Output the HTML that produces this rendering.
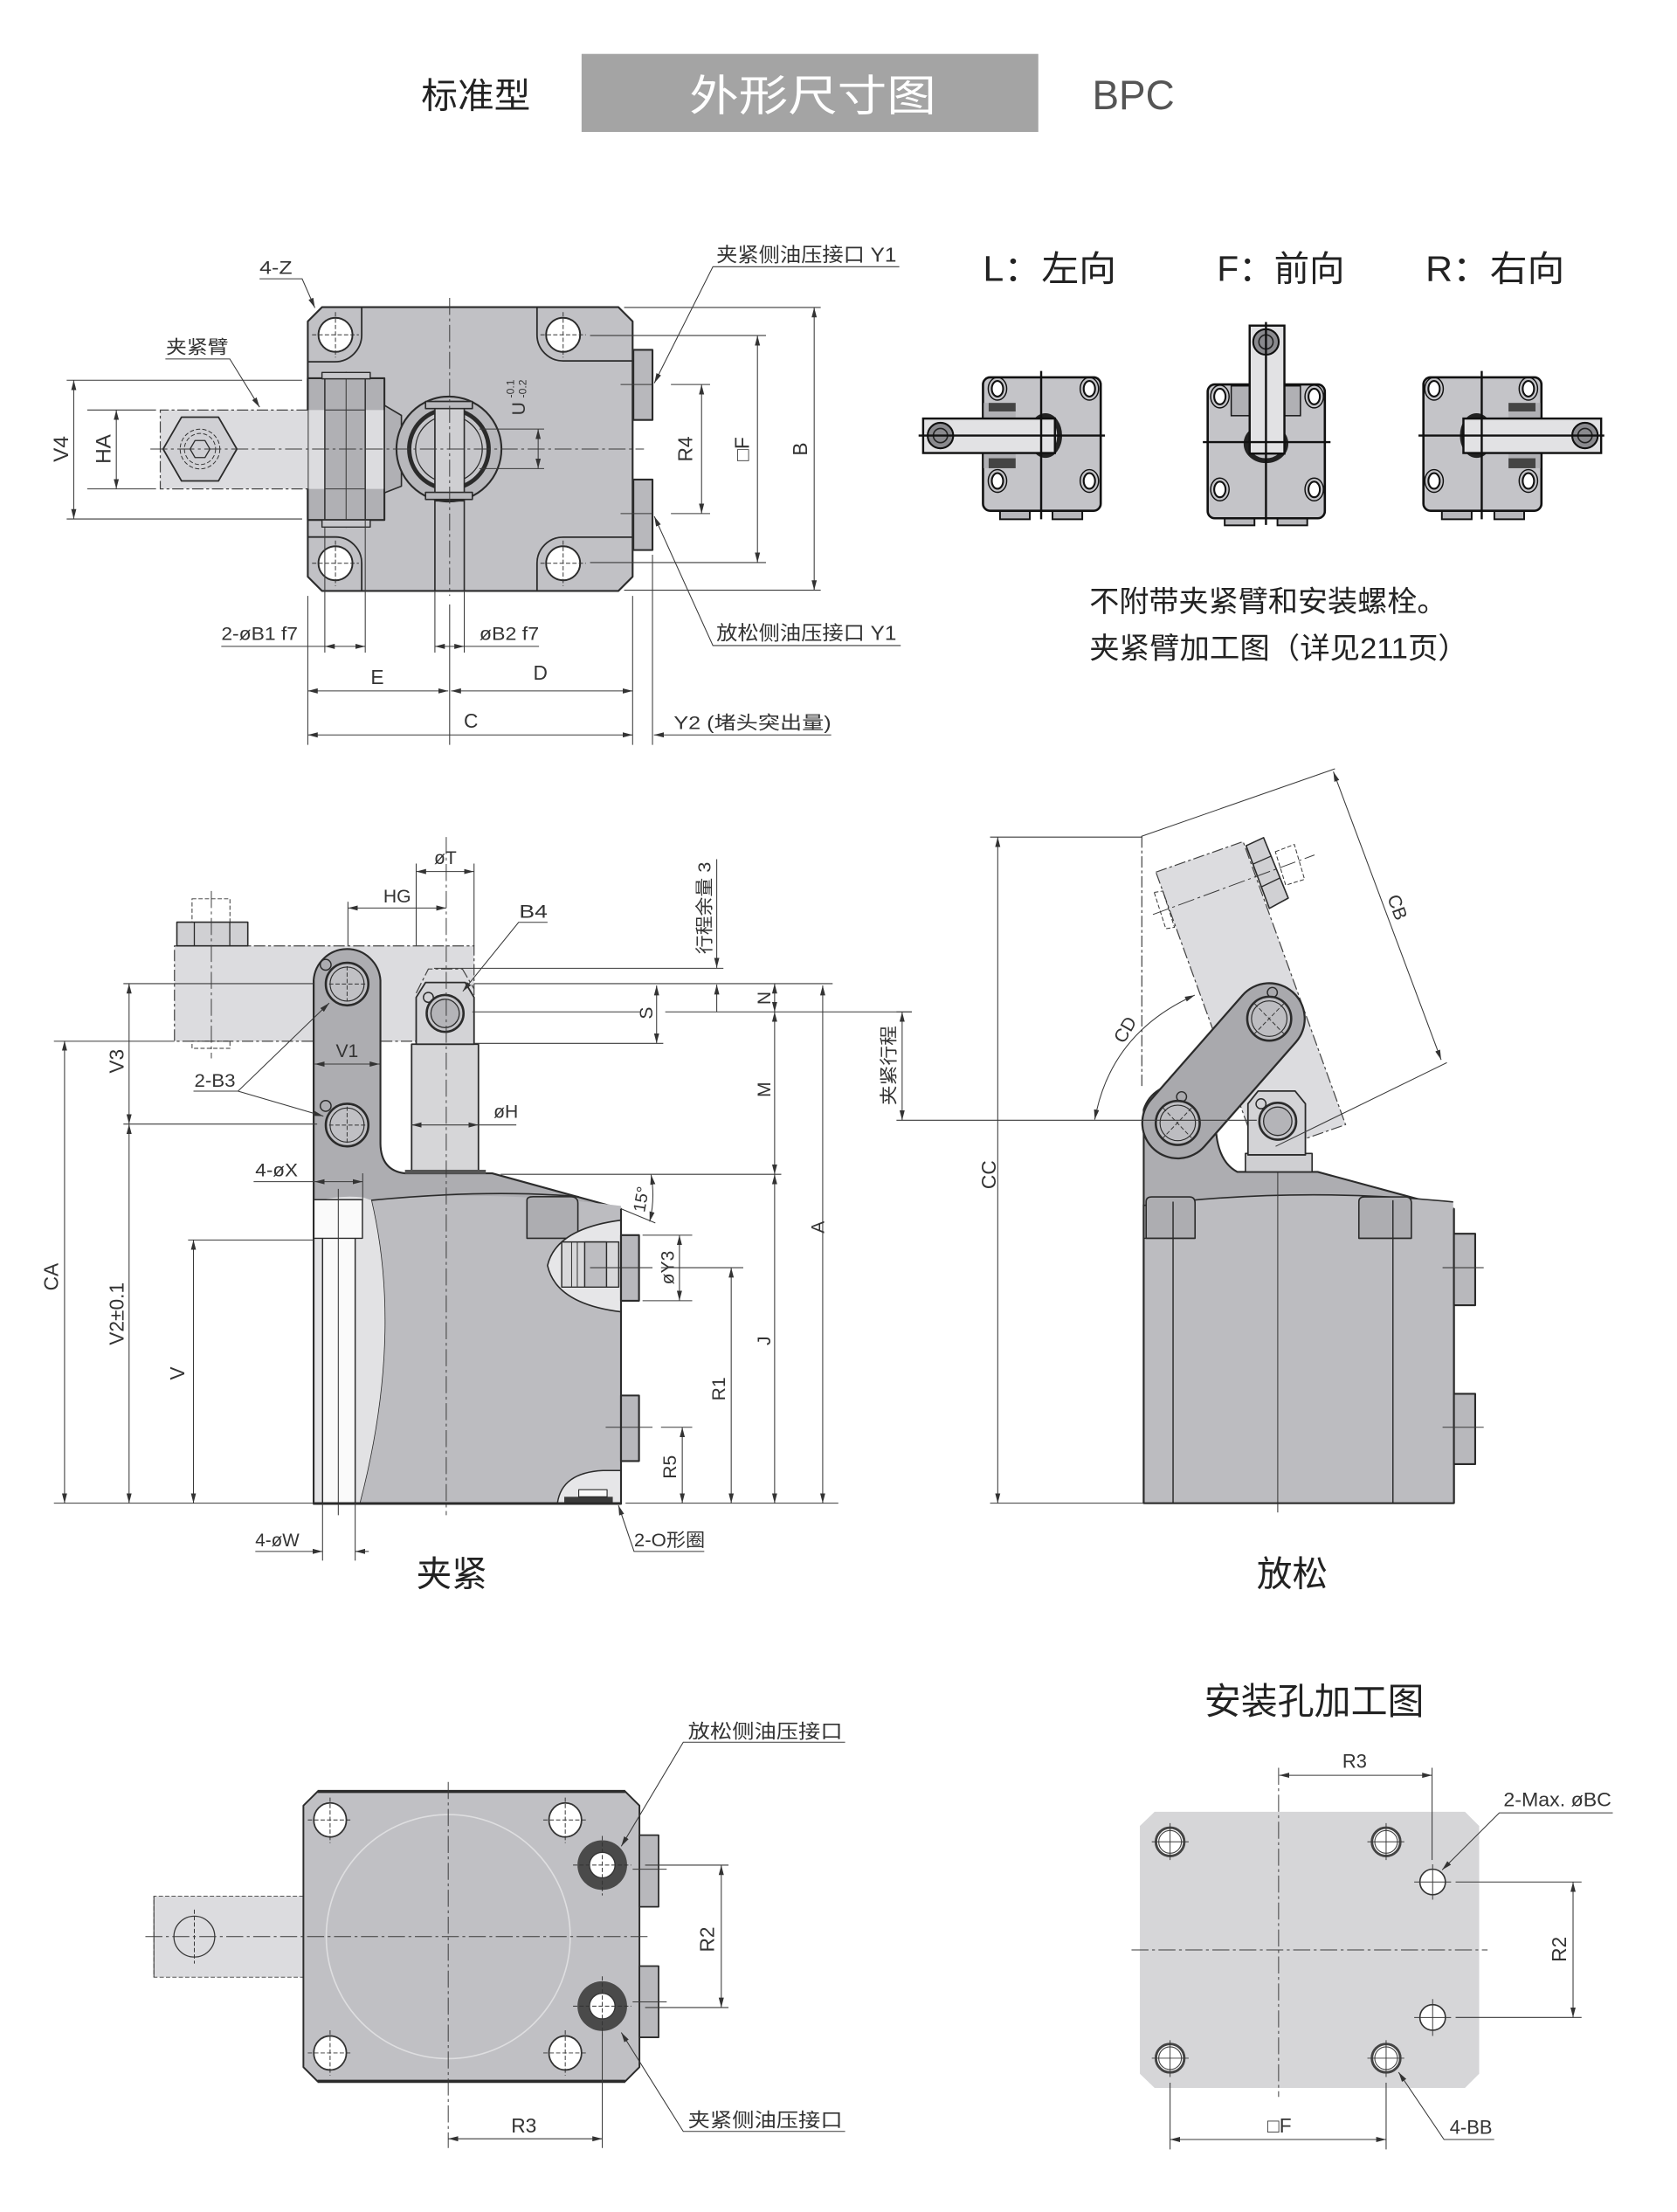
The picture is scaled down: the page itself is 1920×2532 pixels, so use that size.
<!DOCTYPE html>
<html><head><meta charset="utf-8">
<style>
html,body{margin:0;padding:0;background:#fff;}
svg{display:block;}
.t{font-family:"Liberation Sans","Noto Sans CJK SC",sans-serif;fill:#333;}
.o{fill:none;stroke:#2b2b2b;stroke-width:1.3;stroke-linejoin:round;}
.d{fill:none;stroke:#3a3a3a;stroke-width:0.65;}
.c{fill:none;stroke:#3a3a3a;stroke-width:0.6;stroke-dasharray:12 2.5 2 2.5;}
.h{fill:none;stroke:#444;stroke-width:0.75;stroke-dasharray:8 2 2 2;}
.x{fill:none;stroke:#333;stroke-width:0.6;stroke-dasharray:3 1.5;}
.k{fill:none;stroke:#111;stroke-width:1.5;}
.da{marker-start:url(#a);marker-end:url(#a);}
.ea{marker-end:url(#a);}
</style></head>
<body>
<svg xmlns="http://www.w3.org/2000/svg" width="1920" height="2532" viewBox="0 0 1182.27 1559.11" preserveAspectRatio="none">
<defs>
<marker id="a" viewBox="0 0 10 6" refX="10" refY="3" markerWidth="7" markerHeight="4.2" orient="auto-start-reverse" markerUnits="userSpaceOnUse"><path d="M0,0.4 L10,3 L0,5.6 Z" fill="#333"/></marker>
</defs>
<rect width="1182.27" height="1559.11" fill="#fff"/>

<!-- HEADER -->
<text class="t" x="297" y="76" font-size="25" style="fill:#222" textLength="77" lengthAdjust="spacingAndGlyphs">标准型</text>
<rect x="410" y="38" width="322" height="55" fill="#a4a4a4"/>
<text class="t" x="486" y="78" font-size="30" style="fill:#fff" textLength="174" lengthAdjust="spacingAndGlyphs">外形尺寸图</text>
<text class="t" x="770" y="77" font-size="29" style="fill:#555" textLength="58" lengthAdjust="spacingAndGlyphs">BPC</text>

<!-- ================= TOP PLAN VIEW ================= -->
<path d="M227,216.5 L436,216.5 L446,226.5 L446,406.5 L436,416.5 L227,416.5 L217,406.5 L217,226.5 Z" class="o" style="fill:#c1c1c5"/>
<path d="M255,216.5 V236 A19,19 0 0 1 236,255 H217" class="o" style="stroke-width:1.1"/>
<path d="M378.6,216.5 V236 A18.4,18.4 0 0 0 397,254.4 H446" class="o" style="stroke-width:1.1"/>
<path d="M255,416.5 V397 A18.5,18.5 0 0 0 236.5,378.5 H217" class="o" style="stroke-width:1.1"/>
<path d="M378.6,416.5 V397 A18.4,18.4 0 0 1 397,378.6 H446" class="o" style="stroke-width:1.1"/>
<g fill="#fff" stroke="#2b2b2b" stroke-width="1.2">
<circle cx="236.5" cy="236" r="12"/><circle cx="397" cy="236" r="12"/>
<circle cx="236.5" cy="397" r="12"/><circle cx="397" cy="397" r="12"/>
</g>
<g class="x">
<path d="M220,236 H253 M236.5,220 V252 M381,236 H413 M397,220 V252 M220,397 H253 M236.5,381 V413 M381,397 H413 M397,381 V413"/>
</g>
<rect x="446.5" y="246.6" width="13.5" height="49.4" class="o" style="fill:#b8b8bc"/>
<rect x="446.5" y="338" width="13.5" height="49.7" class="o" style="fill:#b8b8bc"/>
<path d="M437.5,271 H459.5 M437.5,362 H459.5" class="d"/>
<rect x="217" y="266.6" width="54" height="99.9" class="o" style="fill:#b0b0b4"/>
<rect x="217.6" y="289" width="11.4" height="55.6" fill="#dcdcdf"/>
<rect x="257.5" y="289" width="13" height="55.6" fill="#dcdcdf"/>
<path d="M229,266.6 V366.5 M257.5,266.6 V366.5" class="o" style="stroke-width:0.9"/>
<path d="M244,262 V372" class="d"/>
<rect x="227" y="262.5" width="34" height="4.5" class="o" style="fill:#c8c8cc;stroke-width:0.9"/>
<rect x="227" y="366.5" width="34" height="5" class="o" style="fill:#c8c8cc;stroke-width:0.9"/>
<path d="M271,285.7 L283,292.8 L283,342.7 L271,347.4 Z" class="o" style="fill:#b0b0b4;stroke-width:1"/>
<rect x="113" y="289" width="104" height="55.6" fill="#dcdcdf"/>
<path d="M217,289 H113 V344.6 H217" class="h"/>
<path d="M229,289 H257.5 M229,344.6 H257.5" class="d"/>
<path d="M115,316.5 L128,294 L154,294 L167,316.5 L154,339 L128,339 Z" class="o" style="fill:#d0d0d4;stroke-width:1.1"/>
<circle cx="141" cy="316.5" r="14" class="x"/>
<circle cx="141" cy="316.5" r="11" class="x"/>
<path d="M134,316.5 L137.5,310.5 L144.5,310.5 L148,316.5 L144.5,322.5 L137.5,322.5 Z" class="o" style="stroke-width:0.8"/>
<circle cx="316.5" cy="316.5" r="37" class="o" style="fill:#b8b8bc"/>
<circle cx="316.5" cy="316.5" r="28" fill="#c6c6ca" stroke="#2b2b2b" stroke-width="3"/>
<circle cx="316.5" cy="316.5" r="23.5" fill="#c6c6ca" stroke="#2b2b2b" stroke-width="0.8"/>
<rect x="306.6" y="283" width="20.7" height="70" class="o" style="fill:#cfcfd2;stroke-width:1"/>
<rect x="300" y="283" width="33" height="5" class="o" style="fill:#b8b8bc;stroke-width:1"/>
<rect x="300" y="347" width="33" height="5" class="o" style="fill:#b8b8bc;stroke-width:1"/>
<path d="M306.6,353 V416.5 M327.3,353 V416.5" class="o" style="stroke-width:1"/>
<path d="M317,210 V420" class="c"/>
<path d="M317,426 V525" class="d"/>
<path d="M106,316.5 H454" class="c"/>
<path d="M306.6,416.5 V460 M327.3,416.5 V460 M229,372 V460 M257.5,366 V460" class="d"/>
<path d="M217,420 V525 M446,420 V525 M460,391 V525" class="d"/>
<text class="t" x="183" y="193" font-size="13" textLength="23" lengthAdjust="spacingAndGlyphs">4-Z</text>
<path d="M183,196.5 H213 L222,217" class="d ea"/>
<text class="t" x="117" y="249" font-size="13" textLength="44" lengthAdjust="spacingAndGlyphs">夹紧臂</text>
<path d="M116.6,253 H162 L183,287" class="d ea"/>
<text class="t" x="505" y="184.5" font-size="14" textLength="127" lengthAdjust="spacingAndGlyphs">夹紧侧油压接口 Y1</text>
<path d="M634,188 H502.6 L461.3,270" class="d ea"/>
<text class="t" x="505" y="451" font-size="14" textLength="127" lengthAdjust="spacingAndGlyphs">放松侧油压接口 Y1</text>
<path d="M635,455 H502.6 L461.3,364" class="d ea"/>
<path d="M47,268 H213 M47,365.8 H213" class="d"/>
<path d="M52,268 V365.8" class="d da"/>
<text class="t" transform="translate(48,316.5) rotate(-90)" font-size="15" text-anchor="middle">V4</text>
<path d="M61.5,289 H110 M61.5,344.6 H110" class="d"/>
<path d="M82,289 V344.6" class="d da"/>
<text class="t" transform="translate(78,316.5) rotate(-90)" font-size="15" text-anchor="middle">HA</text>
<path d="M338,302.4 H383.6 M338,330.3 H383.6" class="d"/>
<path d="M379.4,302.4 V330.3" class="d da"/>
<text class="t" transform="translate(370,288) rotate(-90)" font-size="13" text-anchor="middle">U</text>
<text class="t" transform="translate(362.5,274) rotate(-90)" font-size="7.5" text-anchor="middle">-0.1</text>
<text class="t" transform="translate(371,274) rotate(-90)" font-size="7.5" text-anchor="middle">-0.2</text>
<path d="M473,271 H500.6 M473,362 H500.6" class="d"/>
<path d="M494.6,271 V362" class="d da"/>
<text class="t" transform="translate(488,316.5) rotate(-90)" font-size="14" text-anchor="middle">R4</text>
<path d="M416,236.5 H540 M416,396.5 H540" class="d"/>
<path d="M534,236.5 V396.5" class="d da"/>
<text class="t" transform="translate(528,316.5) rotate(-90)" font-size="14" text-anchor="middle">□F</text>
<path d="M440,216.7 H578.6 M440,416 H578.6" class="d"/>
<path d="M574,216.7 V416" class="d da"/>
<text class="t" transform="translate(569,316.5) rotate(-90)" font-size="14" text-anchor="middle">B</text>
<text class="t" x="156" y="451" font-size="13" textLength="54" lengthAdjust="spacingAndGlyphs">2-øB1 f7</text>
<path d="M156,455.6 H229" class="d"/>
<path d="M229,455.6 H257.5" class="d da"/>
<text class="t" x="338" y="451" font-size="13" textLength="42" lengthAdjust="spacingAndGlyphs">øB2 f7</text>
<path d="M327.3,455.6 H380" class="d"/>
<path d="M306.6,455.6 H327.3" class="d da"/>
<text class="t" x="266" y="482" font-size="14" text-anchor="middle">E</text>
<path d="M217,487 H316" class="d da"/>
<text class="t" x="381" y="479" font-size="14" text-anchor="middle">D</text>
<path d="M318,487 H446" class="d da"/>
<text class="t" x="332" y="513" font-size="14" text-anchor="middle">C</text>
<path d="M217,518 H446" class="d da"/>
<text class="t" x="475" y="514" font-size="13" textLength="111" lengthAdjust="spacingAndGlyphs">Y2 (堵头突出量)</text>
<path d="M586,518 H461" class="d ea"/>

<!-- ================= SMALL VIEWS ================= -->
<text class="t" x="693" y="198" font-size="25" style="fill:#222" textLength="94" lengthAdjust="spacingAndGlyphs">L：左向</text>
<text class="t" x="858" y="198" font-size="25" style="fill:#222" textLength="90" lengthAdjust="spacingAndGlyphs">F：前向</text>
<text class="t" x="1005" y="198" font-size="25" style="fill:#222" textLength="98" lengthAdjust="spacingAndGlyphs">R：右向</text>

<g>
<rect x="705" y="359" width="21" height="7" fill="#b8b8bc" stroke="#111" stroke-width="1.2"/>
<rect x="742" y="359" width="21" height="7" fill="#b8b8bc" stroke="#111" stroke-width="1.2"/>
<rect x="693" y="266" width="83" height="94" rx="5" fill="#c4c4c8" stroke="#111" stroke-width="1.6"/>
<rect x="693.5" y="284" width="22.5" height="46" fill="#b0b0b4"/>
<rect x="697" y="284" width="19" height="6" fill="#444"/>
<rect x="697" y="323" width="19" height="7" fill="#444"/>
<g fill="#fff" stroke="#111" stroke-width="1.3">
<ellipse cx="703.2" cy="274" rx="4" ry="5.5"/><ellipse cx="768" cy="274" rx="4" ry="5.5"/>
<ellipse cx="703.2" cy="339" rx="4" ry="5.5"/><ellipse cx="768" cy="339" rx="4" ry="5.5"/>
</g>
<g fill="none" stroke="#111" stroke-width="0.9">
<ellipse cx="703.2" cy="274" rx="6.5" ry="8"/><ellipse cx="768" cy="274" rx="6.5" ry="8"/>
<ellipse cx="703.2" cy="339" rx="6.5" ry="8"/><ellipse cx="768" cy="339" rx="6.5" ry="8"/>
</g>
<ellipse cx="737" cy="307" rx="10" ry="14" fill="none" stroke="#222" stroke-width="3.5"/>
<rect x="650.8" y="295" width="92.9" height="24.3" fill="#e2e2e4" stroke="#111" stroke-width="1.5"/>
<circle cx="663" cy="307" r="9" fill="#8a8a8e" stroke="#111" stroke-width="1.3"/>
<circle cx="663" cy="307" r="5" fill="none" stroke="#222" stroke-width="1"/>
<path d="M734,261.5 V366 M647.6,307 H779" class="k"/>
</g>
<g>
<rect x="863.4" y="364" width="21" height="6.3" fill="#b8b8bc" stroke="#111" stroke-width="1.2"/>
<rect x="900.6" y="364" width="21" height="6.3" fill="#b8b8bc" stroke="#111" stroke-width="1.2"/>
<rect x="851.4" y="271" width="82.6" height="94.3" rx="5" fill="#c4c4c8" stroke="#111" stroke-width="1.6"/>
<rect x="868" y="272" width="48.8" height="21" fill="#b0b0b4" stroke="#111" stroke-width="0.9"/>
<g fill="#fff" stroke="#111" stroke-width="1.3">
<ellipse cx="860" cy="279.5" rx="4" ry="5.5"/><ellipse cx="926.5" cy="279.5" rx="4" ry="5.5"/>
<ellipse cx="860" cy="345" rx="4" ry="5.5"/><ellipse cx="926.5" cy="345" rx="4" ry="5.5"/>
</g>
<g fill="none" stroke="#111" stroke-width="0.9">
<ellipse cx="860" cy="279.5" rx="6.5" ry="8"/><ellipse cx="926.5" cy="279.5" rx="6.5" ry="8"/>
<ellipse cx="860" cy="345" rx="6.5" ry="8"/><ellipse cx="926.5" cy="345" rx="6.5" ry="8"/>
</g>
<ellipse cx="892.5" cy="312.7" rx="14" ry="12" fill="none" stroke="#222" stroke-width="3.5"/>
<rect x="881" y="229.5" width="24.5" height="90.2" fill="#e2e2e4" stroke="#111" stroke-width="1.5"/>
<circle cx="892.5" cy="241" r="9" fill="#8a8a8e" stroke="#111" stroke-width="1.3"/>
<circle cx="892.5" cy="241" r="5" fill="none" stroke="#222" stroke-width="1"/>
<path d="M892.5,227 V370 M848,311.6 H938" class="k"/>
</g>
<g>
<rect x="1016.5" y="359" width="21" height="7" fill="#b8b8bc" stroke="#111" stroke-width="1.2"/>
<rect x="1053.5" y="359" width="21" height="7" fill="#b8b8bc" stroke="#111" stroke-width="1.2"/>
<rect x="1003.5" y="266" width="83.2" height="94" rx="5" fill="#c4c4c8" stroke="#111" stroke-width="1.6"/>
<rect x="1063.5" y="284" width="22.5" height="46" fill="#b0b0b4"/>
<rect x="1063.5" y="284" width="19" height="6" fill="#444"/>
<rect x="1063.5" y="323" width="19" height="7" fill="#444"/>
<g fill="#fff" stroke="#111" stroke-width="1.3">
<ellipse cx="1011" cy="274" rx="4" ry="5.5"/><ellipse cx="1077.5" cy="274" rx="4" ry="5.5"/>
<ellipse cx="1011" cy="339" rx="4" ry="5.5"/><ellipse cx="1077.5" cy="339" rx="4" ry="5.5"/>
</g>
<g fill="none" stroke="#111" stroke-width="0.9">
<ellipse cx="1011" cy="274" rx="6.5" ry="8"/><ellipse cx="1077.5" cy="274" rx="6.5" ry="8"/>
<ellipse cx="1011" cy="339" rx="6.5" ry="8"/><ellipse cx="1077.5" cy="339" rx="6.5" ry="8"/>
</g>
<ellipse cx="1041" cy="307" rx="10" ry="14" fill="none" stroke="#222" stroke-width="3.5"/>
<rect x="1031.7" y="295" width="97.1" height="24.3" fill="#e2e2e4" stroke="#111" stroke-width="1.5"/>
<circle cx="1117.4" cy="307" r="9" fill="#8a8a8e" stroke="#111" stroke-width="1.3"/>
<circle cx="1117.4" cy="307" r="5" fill="none" stroke="#222" stroke-width="1"/>
<path d="M1044.6,261.5 V366 M1000,307 H1131" class="k"/>
</g>
<text class="t" x="768" y="431" font-size="20.5" style="fill:#222" textLength="252" lengthAdjust="spacingAndGlyphs">不附带夹紧臂和安装螺栓。</text>
<text class="t" x="768" y="464" font-size="20.5" style="fill:#222" textLength="267" lengthAdjust="spacingAndGlyphs">夹紧臂加工图（详见211页）</text>

<!-- ================= CLAMP SIDE VIEW ================= -->
<rect x="123" y="666.7" width="211.2" height="67.2" fill="#dcdcdf"/>
<path d="M123,666.7 H334.2 V733.9 H123 Z" class="h"/>
<rect x="135.4" y="633.5" width="26.7" height="16.5" fill="#dcdcdf" class="x"/>
<rect x="124.7" y="650" width="50" height="16.7" class="o" style="fill:#d0d0d3;stroke-width:1"/>
<path d="M137,650 V666.7 M162,650 V666.7" class="o" style="stroke-width:0.8"/>
<rect x="135.4" y="733.9" width="26.7" height="5" fill="#dcdcdf" class="x"/>
<path d="M149,628 V746" class="c"/>
<path d="M221.1,1060 V691 A23.6,23.6 0 0 1 268.2,691 V806 Q268.5,825 285.5,827 H347 L437.8,852 V1060 Z" class="o" style="fill:#adadb1"/>
<path d="M261.7,846 Q345,838 437.8,850 V1059.5 H253.5 Q284.2,942 261.7,846 Z" fill="#bcbcc0"/>
<path d="M261.7,846 Q345,838 408,843.5" class="o" style="stroke-width:1"/>
<path d="M261.7,846 Q284.2,942 253.5,1059.5" class="o" style="stroke-width:1"/>
<path d="M221.1,847 Q240,842 256,844 L261.7,846 Q284.2,942 253.5,1059.5 H221.1 Z" fill="#e2e2e4"/>
<rect x="221.1" y="845.6" width="34.4" height="27.2" fill="#fafafa"/>
<rect x="227.4" y="872.8" width="23" height="186.7" fill="#fafafa"/>
<path d="M221.1,845.6 H255.5 V872.8 H221.1 M227.4,872.8 V1059.5 M250.4,872.8 V1059.5" class="o" style="stroke-width:0.9"/>
<path d="M238.5,838 V1068" class="d"/>
<path d="M221.1,691 V1059.5" class="o"/>
<path d="M371.5,872.8 V846 Q371.5,843.5 376,843.5 H402 Q407.4,843.5 407.4,848 V872.8 Z" class="o" style="fill:#adadb1;stroke-width:1"/>
<!-- port cutaway -->
<path d="M437.8,860 Q392,866 386,892 Q392,919 437.8,924.6 Z" class="o" style="fill:#e6e6e8;stroke-width:1"/>
<rect x="396" y="875.4" width="40.2" height="31.8" class="o" style="fill:#d8d8da;stroke-width:0.9"/>
<rect x="412.2" y="875.4" width="15.4" height="31.8" class="o" style="fill:#bdbdc1;stroke-width:0.9"/>
<path d="M403,875.4 V907.2 M407,875.4 V907.2" class="d"/>
<rect x="437.8" y="870.6" width="12.7" height="46.2" class="o" style="fill:#b8b8bc"/>
<rect x="437.8" y="983.6" width="12.7" height="46.2" class="o" style="fill:#b8b8bc"/>
<path d="M416,893.5 H460 M427,1006 H460" class="d"/>
<path d="M393,1059.5 Q396,1038 425,1036.5 H437.8 V1059.5 Z" class="o" style="fill:#e6e6e8;stroke-width:0.9"/>
<rect x="397.8" y="1055" width="34.2" height="4.5" fill="#3a3a3a"/>
<rect x="408" y="1050" width="20" height="5" class="o" style="fill:#fafafa;stroke-width:0.7"/>
<path d="M221.1,1059.5 H437.8" class="o" style="stroke-width:1.4"/>
<path d="M437.8,852 V1059.5" class="o"/>
<rect x="290.2" y="736" width="47.1" height="91" class="o" style="fill:#d6d6d8;stroke-width:1.1"/>
<rect x="285.5" y="824.5" width="57" height="3" fill="#555"/>
<path d="M293.4,700 L302,683 H326 L334.2,697" class="h"/>
<path d="M293.4,736 V703 L300,692.5 H328 L334.2,703 V736 Z" class="o" style="fill:#d3d3d6;stroke-width:1.1"/>
<circle cx="313.8" cy="714.3" r="13" fill="#c4c4c8" stroke="#2b2b2b" stroke-width="1.6"/>
<circle cx="313.8" cy="714.3" r="10" fill="#b4b4b8" stroke="#2b2b2b" stroke-width="0.8"/>
<circle cx="302" cy="703" r="3.5" fill="none" stroke="#2b2b2b" stroke-width="0.9"/>
<g>
<circle cx="244.7" cy="693.6" r="15" fill="#c0c0c4" stroke="#2b2b2b" stroke-width="1.6"/>
<circle cx="244.7" cy="693.6" r="12" fill="#c0c0c4" stroke="#2b2b2b" stroke-width="0.7"/>
<circle cx="229.6" cy="680" r="3.8" fill="none" stroke="#2b2b2b" stroke-width="0.9"/>
<circle cx="244.7" cy="793" r="15" fill="#c0c0c4" stroke="#2b2b2b" stroke-width="1.6"/>
<circle cx="244.7" cy="793" r="12" fill="#c0c0c4" stroke="#2b2b2b" stroke-width="0.7"/>
<circle cx="229.6" cy="779.5" r="3.8" fill="none" stroke="#2b2b2b" stroke-width="0.9"/>
<path d="M232,693.6 H258 M244.7,681 V706 M232,793 H258 M244.7,780 V806" class="x"/>
</g>
<path d="M314.6,590 V1068" class="c"/>
<path d="M293.4,608.7 V666.7 M334.2,608.7 V666.7" class="d"/>
<path d="M293.4,614.3 H334.2" class="d da"/>
<text class="t" x="314" y="609" font-size="13" text-anchor="middle">øT</text>
<path d="M245.3,635.6 V666.7" class="d"/>
<path d="M245.3,640 H314.6" class="d da"/>
<text class="t" x="280" y="636" font-size="13" text-anchor="middle">HG</text>
<text class="t" x="366" y="647" font-size="13" textLength="20" lengthAdjust="spacingAndGlyphs">B4</text>
<path d="M386,650.1 H365.6 L326.3,698.7" class="d ea"/>
<text class="t" transform="translate(501,640) rotate(-90)" font-size="12.5" text-anchor="middle" textLength="65" lengthAdjust="spacingAndGlyphs">行程余量 3</text>
<path d="M505.3,605.6 V682.2" class="d ea"/>
<path d="M505.3,713.2 V694" class="d ea"/>
<path d="M306,682.5 H510" class="d"/>
<path d="M87,693.3 H221 M334.2,693.3 H587" class="d"/>
<path d="M333,713.2 H451 M469,713.2 H642.8" class="d"/>
<path d="M334.2,735.4 H467.6" class="d"/>
<path d="M462.9,694.6 V735.4" class="d da"/>
<text class="t" transform="translate(460,714) rotate(-90)" font-size="13" text-anchor="middle">S</text>
<path d="M546.1,693.3 V713.2" class="d da"/>
<text class="t" transform="translate(543,703.5) rotate(-90)" font-size="13" text-anchor="middle">N</text>
<path d="M546.1,713.2 V827.7" class="d da"/>
<text class="t" transform="translate(543,768) rotate(-90)" font-size="13" text-anchor="middle">M</text>
<path d="M353,827.7 H550.8" class="d"/>
<path d="M580,694.6 V1059.5" class="d da"/>
<text class="t" transform="translate(581,865) rotate(-90)" font-size="13" text-anchor="middle">A</text>
<path d="M546.1,827.7 V1059.5" class="d da"/>
<text class="t" transform="translate(543,945) rotate(-90)" font-size="13" text-anchor="middle">J</text>
<path d="M515.5,893.5 V1059.5" class="d da"/>
<text class="t" transform="translate(511,979) rotate(-90)" font-size="13" text-anchor="middle">R1</text>
<path d="M479,870.6 V916.8" class="d da"/>
<text class="t" transform="translate(475,893.5) rotate(-90)" font-size="13" text-anchor="middle">øY3</text>
<path d="M481,1006 V1059.5" class="d da"/>
<text class="t" transform="translate(476.5,1034) rotate(-90)" font-size="13" text-anchor="middle">R5</text>
<path d="M453,870.6 H488 M453,916.8 H488 M466,893.5 H524 M466,1006 H488" class="d"/>
<path d="M38,1059.5 H221 M441,1059.5 H591" class="d"/>
<path d="M437.8,852 L462,862" class="d"/>
<path d="M459,828 Q462,845 458,861" class="d da"/>
<text class="t" transform="translate(456,846) rotate(-80)" font-size="12" text-anchor="middle">15°</text>
<path d="M290.2,792.9 H337.3" class="d da"/>
<path d="M337.3,792.9 H364" class="d"/>
<text class="t" x="348" y="788" font-size="13">øH</text>
<path d="M221.8,750 H267.6" class="d da"/>
<text class="t" x="244.7" y="745" font-size="13" text-anchor="middle">V1</text>
<text class="t" x="137" y="766" font-size="13" textLength="29" lengthAdjust="spacingAndGlyphs">2-B3</text>
<path d="M136.4,769.1 H167.8 L232.1,707" class="d ea"/>
<path d="M167.8,769.1 L228,786.7" class="d ea"/>
<text class="t" x="180" y="829" font-size="13" textLength="30" lengthAdjust="spacingAndGlyphs">4-øX</text>
<path d="M178.8,832.9 H221.8" class="d"/>
<path d="M221.8,832.9 H255.7" class="d da"/>
<path d="M255.7,827 V846" class="d"/>
<path d="M45.5,733.6 V1059.5" class="d da"/>
<path d="M38,733.9 H123" class="d"/>
<text class="t" transform="translate(41,900) rotate(-90)" font-size="14" text-anchor="middle">CA</text>
<path d="M91,693.3 V792.3" class="d da"/>
<text class="t" transform="translate(87,748) rotate(-90)" font-size="14" text-anchor="middle">V3</text>
<path d="M91,792.3 V1059.5" class="d da"/>
<text class="t" transform="translate(87,926) rotate(-90)" font-size="14" text-anchor="middle">V2±0.1</text>
<path d="M87,792.3 H223.6" class="d"/>
<path d="M136.4,874 V1059.5" class="d da"/>
<path d="M132.6,874 H221" class="d"/>
<text class="t" transform="translate(130,968) rotate(-90)" font-size="14" text-anchor="middle">V</text>
<text class="t" x="180" y="1090" font-size="13" textLength="31" lengthAdjust="spacingAndGlyphs">4-øW</text>
<path d="M227.4,1059.5 V1100 M250.4,1059.5 V1100" class="d"/>
<path d="M180,1093.5 H227.4" class="d ea"/>
<path d="M260,1093.5 H250.4" class="d ea"/>
<text class="t" x="447" y="1090" font-size="13" textLength="50" lengthAdjust="spacingAndGlyphs">2-O形圈</text>
<path d="M496.5,1093.5 H447 L436,1061" class="d ea"/>
<text class="t" x="318.5" y="1118" font-size="25" style="fill:#222" text-anchor="middle">夹紧</text>

<!-- ================= RELEASE VIEW ================= -->
<path d="M814.9,614.7 L876.4,593.2 L948.6,792.7 L887.1,814.2 Z" fill="#dcdcdf"/>
<path d="M814.9,614.7 L876.4,593.2 L948.6,792.7 L887.1,814.2 Z" class="h"/>
<path d="M878.5,596.1 L890.8,590.4 L908.2,633 L894.9,640.3 Z" class="o" style="fill:#d0d0d3;stroke-width:1"/>
<path d="M883.5,609 L896,603.5 M889.5,625 L902,619" class="o" style="stroke-width:0.8"/>
<path d="M899.1,600.3 L912.5,595.2 L919.7,619.8 L906.4,623.9 Z" fill="#dcdcdf" class="x"/>
<path d="M813.7,629 L819.8,628 L828,653.6 L821.9,654.6 Z" fill="#dcdcdf" class="x"/>
<path d="M812.8,644.6 L926.7,602.6" class="c"/>
<path d="M806.3,1059.5 V782 A26,26 0 0 1 857,790 Q857,818 872.3,826 H929 L1025,852 V1059.5 Z" class="o" style="fill:#adadb1"/>
<path d="M806.8,849.6 Q915,836 1024.5,847.2 V1059 H806.8 Z" fill="#bcbcc0"/>
<path d="M806.8,849.6 Q915,836 1024.5,847.2" class="o" style="stroke-width:1"/>
<path d="M808,872.8 V847 Q808,843.6 812,843.6 H838.5 Q842.5,843.6 842.5,848 V872.8 Z" class="o" style="fill:#adadb1;stroke-width:1"/>
<path d="M958,872.8 V847 Q958,843.6 962,843.6 H991 Q995,843.6 995,848 V872.8 Z" class="o" style="fill:#adadb1;stroke-width:1"/>
<path d="M806.3,872.8 H842.5 M958,872.8 H995" class="o" style="stroke-width:0.9"/>
<path d="M827,847 V1059.5 M982,846 V1059.5" class="o" style="stroke-width:0.9"/>
<path d="M900.8,780 V1066" class="d"/>
<path d="M806.3,1059.5 H1025 M806.3,849 V1059.5 M1025,852 V1059.5" class="o"/>
<rect x="1025" y="869.6" width="15" height="50.4" class="o" style="fill:#b8b8bc"/>
<rect x="1025" y="982.4" width="15" height="49.6" class="o" style="fill:#b8b8bc"/>
<path d="M1017,893.5 H1046 M1017,1006 H1046" class="d"/>
<rect x="878" y="813" width="47" height="13" class="o" style="fill:#cfcfd2;stroke-width:1"/>
<path d="M879.8,814 V778 L887,769 H913 L920.3,778 V814 Z" class="o" style="fill:#d3d3d6;stroke-width:1.1"/>
<circle cx="900.8" cy="790.3" r="13" fill="#c4c4c8" stroke="#2b2b2b" stroke-width="1.6"/>
<circle cx="900.8" cy="790.3" r="10" fill="#b4b4b8" stroke="#2b2b2b" stroke-width="0.8"/>
<circle cx="889" cy="778" r="3.5" fill="none" stroke="#2b2b2b" stroke-width="0.9"/>
<path d="M849.1,808 L913.6,734.5 A25,25 0 0 0 876,701.5 L811.5,775 A25,25 0 0 0 849.1,808 Z" class="o" style="fill:#a9a9ad;stroke-width:1.4"/>
<circle cx="830.3" cy="791.5" r="15.5" fill="#bdbdc1" stroke="#2b2b2b" stroke-width="1.6"/>
<circle cx="830.3" cy="791.5" r="12.5" fill="none" stroke="#2b2b2b" stroke-width="0.7"/>
<circle cx="894.8" cy="718" r="15.5" fill="#bdbdc1" stroke="#2b2b2b" stroke-width="1.6"/>
<circle cx="894.8" cy="718" r="12.5" fill="none" stroke="#2b2b2b" stroke-width="0.7"/>
<circle cx="833" cy="773" r="3.5" fill="none" stroke="#2b2b2b" stroke-width="0.9"/>
<circle cx="897" cy="699.5" r="3.5" fill="none" stroke="#2b2b2b" stroke-width="0.9"/>
<path d="M820,781 L840,802 M840,781 L820,802 M884.5,707.5 L905,728.5 M905,707.5 L884.5,728.5" class="x"/>
<path d="M805,589.5 V766" class="h"/>
<path d="M698,590 H805" class="d"/>
<path d="M703.4,590 V1059.5" class="d da"/>
<path d="M698,1059.5 H806" class="d"/>
<text class="t" transform="translate(702,828) rotate(-90)" font-size="14" text-anchor="middle">CC</text>
<path d="M642.8,713.2 H632 M632,789.6 H886" class="d"/>
<path d="M636,713.2 V789.6" class="d da"/>
<text class="t" transform="translate(631,751) rotate(-90)" font-size="12.5" text-anchor="middle" textLength="56" lengthAdjust="spacingAndGlyphs">夹紧行程</text>
<path d="M842.3,701.4 Q783,728 771.8,789.1" class="d da"/>
<text class="t" transform="translate(797,728) rotate(-60)" font-size="13" text-anchor="middle">CD</text>
<path d="M804.6,589.5 L941.1,541.9" class="d"/>
<path d="M940,543.9 L1016,747" class="d da"/>
<path d="M1020,749 L899.3,808" class="d"/>
<text class="t" transform="translate(981,641) rotate(70)" font-size="13" text-anchor="middle">CB</text>
<text class="t" x="911" y="1118" font-size="25" style="fill:#222" text-anchor="middle">放松</text>

<!-- ================= BOTTOM LEFT VIEW ================= -->
<rect x="108.5" y="1336.5" width="105.4" height="57.1" fill="#dcdcdf"/>
<path d="M213.9,1336.5 H108.5 V1393.6 H213.9" class="x" style="stroke:#555"/>
<path d="M108.5,1336.5 V1393.6" class="d"/>
<circle cx="137" cy="1365" r="14.4" class="d" style="stroke-width:0.8"/>
<path d="M137,1346 V1384" class="x"/>
<path d="M223.9,1262.7 H440.8 L450.8,1272.7 V1457 L440.8,1467 H223.9 L213.9,1457 V1272.7 Z" class="o" style="fill:#c0c0c4;stroke-width:1.2"/>
<path d="M223.9,1262.7 H440.8 M223.9,1467 H440.8" class="o" style="stroke-width:2.2"/>
<circle cx="316" cy="1365" r="86" fill="none" stroke="#dedee0" stroke-width="1"/>
<g fill="#fff" stroke="#333" stroke-width="1.1">
<ellipse cx="232.7" cy="1282.8" rx="11.5" ry="12"/><ellipse cx="398.5" cy="1282.8" rx="11.5" ry="12"/>
<ellipse cx="232.7" cy="1447" rx="11.5" ry="12"/><ellipse cx="398.5" cy="1447" rx="11.5" ry="12"/>
</g>
<path d="M217,1282.8 H248 M232.7,1267 V1299 M383,1282.8 H414 M398.5,1267 V1299 M217,1447 H248 M232.7,1431 V1463 M383,1447 H414 M398.5,1431 V1463" class="x"/>
<circle cx="424.6" cy="1314.6" r="17.5" fill="#4a4a4a"/>
<circle cx="424.6" cy="1314.6" r="9" fill="#fff" stroke="#333" stroke-width="0.8"/>
<circle cx="424.6" cy="1414" r="17.5" fill="#4a4a4a"/>
<circle cx="424.6" cy="1414" r="9" fill="#fff" stroke="#333" stroke-width="0.8"/>
<path d="M404,1314.6 H445 M424.6,1294 V1336 M404,1414 H445 M424.6,1393 V1435" class="x"/>
<rect x="450.8" y="1293.5" width="13.5" height="50.5" class="o" style="fill:#b8b8bc;stroke-width:1.1"/>
<rect x="450.8" y="1385.8" width="13.5" height="50.2" class="o" style="fill:#b8b8bc;stroke-width:1.1"/>
<path d="M446,1317.5 H470 M446,1411 H470" class="d"/>
<path d="M102.5,1365 H456.5" class="c"/>
<path d="M316,1256 V1514" class="c"/>
<path d="M454.8,1314.6 H513.6 M454.8,1415 H513.6" class="d"/>
<path d="M508.5,1314.6 V1415" class="d da"/>
<text class="t" transform="translate(503.5,1367) rotate(-90)" font-size="14" text-anchor="middle">R2</text>
<path d="M424.6,1432 V1514" class="d"/>
<path d="M316,1507.5 H424.6" class="d da"/>
<text class="t" x="369.3" y="1503" font-size="14" text-anchor="middle">R3</text>
<text class="t" x="485" y="1225" font-size="13.5" textLength="109" lengthAdjust="spacingAndGlyphs">放松侧油压接口</text>
<path d="M595.8,1228 H481.7 L438,1301.3" class="d ea"/>
<text class="t" x="485" y="1499" font-size="13.5" textLength="109" lengthAdjust="spacingAndGlyphs">夹紧侧油压接口</text>
<path d="M595.8,1502.3 H481.7 L438,1432.6" class="d ea"/>

<!-- ================= BOTTOM RIGHT: INSTALL HOLES ================= -->
<text class="t" x="849" y="1208" font-size="26" style="fill:#222" textLength="155" lengthAdjust="spacingAndGlyphs">安装孔加工图</text>
<path d="M814,1277 H1032.8 L1042.8,1287 V1461.7 L1032.8,1471.7 H814 L803.6,1461.7 V1287 Z" fill="#d6d6d8"/>
<g fill="#fff" stroke="#444" stroke-width="1.8">
<circle cx="824.9" cy="1298.2" r="10"/><circle cx="977.2" cy="1298.2" r="10"/>
<circle cx="824.9" cy="1450.7" r="10"/><circle cx="977.2" cy="1450.7" r="10"/>
</g>
<g fill="none" stroke="#444" stroke-width="0.7">
<circle cx="824.9" cy="1298.2" r="8"/><circle cx="977.2" cy="1298.2" r="8"/>
<circle cx="824.9" cy="1450.7" r="8"/><circle cx="977.2" cy="1450.7" r="8"/>
</g>
<g fill="#fff" stroke="#333" stroke-width="1">
<circle cx="1010" cy="1326.5" r="9"/><circle cx="1010" cy="1422" r="9"/>
</g>
<path d="M812,1298.2 H838 M824.9,1285 V1311 M964,1298.2 H990 M977.2,1285 V1311 M812,1450.7 H838 M824.9,1438 V1464 M964,1450.7 H990 M977.2,1438 V1464 M997,1326.5 H1023 M1010,1314 V1339 M997,1422 H1023 M1010,1409 V1435" class="d" style="stroke-width:0.6"/>
<path d="M797.7,1374.4 H1048.7" class="c"/>
<path d="M901.4,1246 V1478" class="c"/>
<path d="M1009.6,1246 V1311" class="d"/>
<path d="M901.9,1251.3 H1009.6" class="d da"/>
<text class="t" x="955" y="1246" font-size="13.5" text-anchor="middle">R3</text>
<text class="t" x="1060" y="1273" font-size="13.5" textLength="76" lengthAdjust="spacingAndGlyphs">2-Max. øBC</text>
<path d="M1137,1277.8 H1057 L1016.7,1318" class="d ea"/>
<path d="M1026.2,1326.5 H1115 M1026.2,1422 H1115" class="d"/>
<path d="M1109,1326.5 V1422" class="d da"/>
<text class="t" transform="translate(1104,1374) rotate(-90)" font-size="14" text-anchor="middle">R2</text>
<path d="M824.9,1468 V1515 M977.2,1468 V1515" class="d"/>
<path d="M824.9,1508 H977.2" class="d da"/>
<text class="t" x="902" y="1503" font-size="14" text-anchor="middle">□F</text>
<text class="t" x="1022" y="1504" font-size="13.5" textLength="30" lengthAdjust="spacingAndGlyphs">4-BB</text>
<path d="M1053.4,1508 H1018 L986,1460.6" class="d ea"/>
</svg>
</body></html>
